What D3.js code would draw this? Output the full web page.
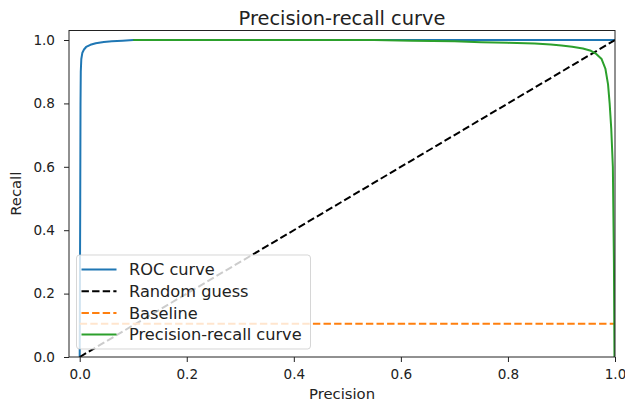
<!DOCTYPE html>
<html>
<head>
<meta charset="utf-8">
<script src="https://cdn.jsdelivr.net/npm/d3@7"></script>
<style>
  html, body { margin: 0; padding: 0; background: #fff; }
  svg { display: block; font-family: "DejaVu Sans", sans-serif; }
</style>
</head>
<body>
<div id="chart"></div>
<script>
// ROC curve (false positive rate, true positive rate)
var rocX = [0, 0.001, 0.0015, 0.002, 0.003, 0.005, 0.008, 0.012, 0.02, 0.03, 0.045, 0.06, 0.08, 0.1, 1.0];
var rocY = [0, 0.50, 0.80, 0.90, 0.94, 0.96, 0.970, 0.978, 0.985, 0.990, 0.994, 0.996, 0.998, 1.0, 1.0];

// random guess diagonal
var guessX = [0, 1];
var guessY = [0, 1];

// baseline (positive rate)
var baseX = [0, 1];
var baseY = [0.105, 0.105];

// precision-recall curve (precision on x, recall on y)
var prX = [0.1, 0.3, 0.55, 0.62, 0.7, 0.75, 0.8, 0.85, 0.88, 0.9, 0.92, 0.94, 0.955, 0.965, 0.975, 0.982, 0.987, 0.99, 0.993, 0.996, 0.998, 0.999];
var prY = [1.0, 1.0, 1.0, 0.998, 0.996, 0.993, 0.991, 0.989, 0.986, 0.983, 0.979, 0.973, 0.966, 0.956, 0.94, 0.91, 0.86, 0.80, 0.72, 0.60, 0.30, 0.0];

var xTicks = [0, 0.2, 0.4, 0.6, 0.8, 1.0];
var yTicks = [0, 0.2, 0.4, 0.6, 0.8, 1.0];

var legendLabels = ["ROC curve", "Random guess", "Baseline", "Precision-recall curve"];

var W = 625, H = 402;
var plot = { left: 69, right: 615, top: 30.5, bottom: 357 };

var svg = d3.select("#chart").append("svg")
    .attr("width", W)
    .attr("height", H);

var x = d3.scaleLinear().domain([-0.02, 1.0]).range([plot.left, plot.right]);
var y = d3.scaleLinear().domain([0, 1.03]).range([plot.bottom, plot.top]);

svg.append("defs").append("clipPath")
    .attr("id", "clip")
    .append("rect")
    .attr("x", plot.left)
    .attr("y", plot.top)
    .attr("width", plot.right - plot.left)
    .attr("height", plot.bottom - plot.top);

// axes
var xAxis = svg.append("g")
    .attr("transform", "translate(0," + plot.bottom + ")")
    .call(d3.axisBottom(x).tickValues(xTicks).tickFormat(d3.format(".1f"))
        .tickSize(5).tickSizeOuter(0).tickPadding(7));

var yAxis = svg.append("g")
    .attr("transform", "translate(" + plot.left + ",0)")
    .call(d3.axisLeft(y).tickValues(yTicks).tickFormat(d3.format(".1f"))
        .tickSize(5).tickSizeOuter(0).tickPadding(9));

[xAxis, yAxis].forEach(function (g) {
    g.select(".domain").remove();
    g.selectAll("line").attr("stroke", "#222").attr("stroke-width", 1);
    g.selectAll("text")
        .attr("fill", "#222")
        .style("font-size", "13.6px")
        .style("font-family", "'DejaVu Sans', sans-serif");
});

// series
var line = d3.line()
    .x(function (d) { return x(d[0]); })
    .y(function (d) { return y(d[1]); });

function pairs(xs, ys) {
    return xs.map(function (v, i) { return [v, ys[i]]; });
}

var series = [
    { data: pairs(rocX, rocY), color: "#1f77b4", dash: null },
    { data: pairs(guessX, guessY), color: "#000000", dash: "7.4,3.2" },
    { data: pairs(baseX, baseY), color: "#ff7f0e", dash: "7.4,3.2" },
    { data: pairs(prX, prY), color: "#2ca02c", dash: null }
];

var lines = svg.append("g").attr("clip-path", "url(#clip)");
series.forEach(function (s) {
    lines.append("path")
        .datum(s.data)
        .attr("d", line)
        .attr("fill", "none")
        .attr("stroke", s.color)
        .attr("stroke-width", 2)
        .attr("stroke-dasharray", s.dash)
        .attr("stroke-linejoin", "round");
});

// frame
svg.append("rect")
    .attr("x", plot.left)
    .attr("y", plot.top)
    .attr("width", plot.right - plot.left)
    .attr("height", plot.bottom - plot.top)
    .attr("fill", "none")
    .attr("stroke", "#222")
    .attr("stroke-width", 1);

// legend
var leg = svg.append("g").attr("transform", "translate(76.5,255)");
leg.append("rect")
    .attr("width", 234)
    .attr("height", 94)
    .attr("rx", 3)
    .attr("fill", "#fff")
    .attr("fill-opacity", 0.8)
    .attr("stroke", "#ccc")
    .attr("stroke-opacity", 0.8);

legendLabels.forEach(function (label, i) {
    var cy = 14.5 + i * 21.7;
    leg.append("line")
        .attr("x1", 5).attr("x2", 40)
        .attr("y1", cy).attr("y2", cy)
        .attr("stroke", series[i].color)
        .attr("stroke-width", 2)
        .attr("stroke-dasharray", series[i].dash);
    leg.append("text")
        .attr("x", 52.5)
        .attr("y", cy + 5.8)
        .attr("fill", "#222")
        .style("font-size", "16.2px")
        .text(label);
});

// title and labels
svg.append("text")
    .attr("x", (plot.left + plot.right) / 2)
    .attr("y", 25)
    .attr("text-anchor", "middle")
    .attr("fill", "#222")
    .style("font-size", "19.4px")
    .text("Precision-recall curve");

svg.append("text")
    .attr("x", (plot.left + plot.right) / 2)
    .attr("y", 398.5)
    .attr("text-anchor", "middle")
    .attr("fill", "#222")
    .style("font-size", "14.8px")
    .text("Precision");

svg.append("text")
    .attr("transform", "translate(21," + ((plot.top + plot.bottom) / 2) + ") rotate(-90)")
    .attr("text-anchor", "middle")
    .attr("fill", "#222")
    .style("font-size", "14.8px")
    .text("Recall");
</script>
</body>
</html>
